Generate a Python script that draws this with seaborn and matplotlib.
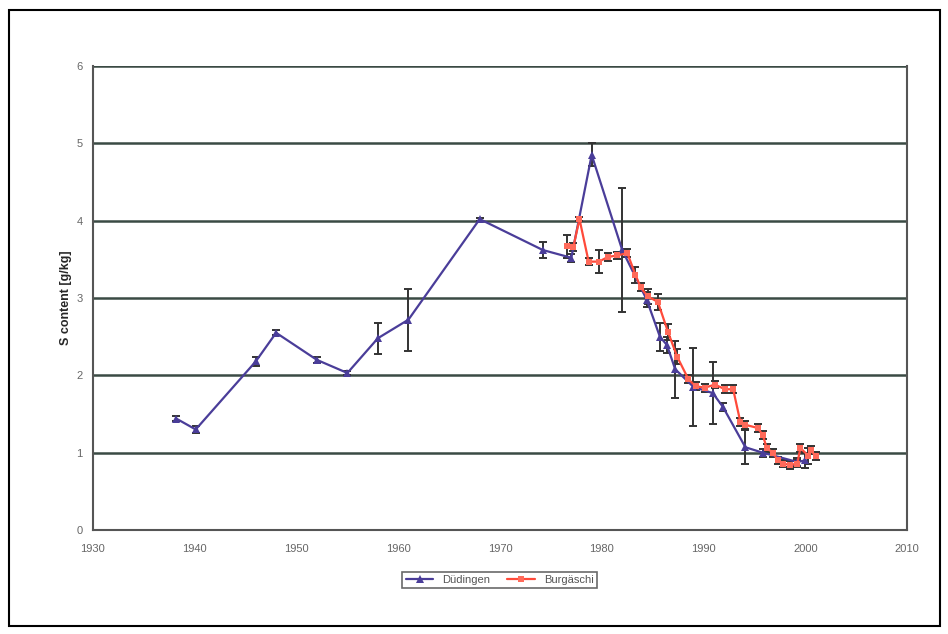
import numpy as np
import pandas as pd
import matplotlib
matplotlib.use('Agg')
import matplotlib.pyplot as plt
import seaborn as sns
from matplotlib.patches import Rectangle

# Düdingen
dud_year = [1938.2, 1940.1, 1946.0, 1948.0, 1952.0, 1955.0, 1958.0, 1961.0, 1968.0,
            1974.2, 1977.0, 1979.0, 1982.0, 1984.4, 1985.7, 1986.4, 1987.2, 1989.0,
            1990.9, 1991.9, 1994.1, 1995.8, 1999.2, 2000.0]
dud_val = [1.44, 1.30, 2.18, 2.55, 2.20, 2.03, 2.48, 2.72, 4.02,
           3.62, 3.52, 4.85, 3.62, 2.98, 2.50, 2.39, 2.08, 1.85,
           1.77, 1.59, 1.07, 1.00, 0.88, 0.90]
dud_err = [0.03, 0.05, 0.06, 0.03, 0.04, 0.02, 0.20, 0.40, 0.02,
           0.10, 0.05, 0.15, 0.80, 0.10, 0.18, 0.10, 0.37, 0.50,
           0.40, 0.05, 0.22, 0.05, 0.05, 0.10]

# Burgäschi
bur_year = [1976.6, 1977.2, 1977.8, 1978.7, 1979.7, 1980.6, 1981.5, 1982.5, 1983.3,
            1983.8, 1984.5, 1985.5, 1986.5, 1987.4, 1988.5, 1989.2, 1990.1, 1991.1,
            1992.1, 1992.9, 1993.6, 1994.1, 1995.3, 1995.8, 1996.2, 1996.8, 1997.3,
            1997.8, 1998.5, 1999.2, 1999.5, 2000.3, 2000.5, 2001.0]
bur_val = [3.67, 3.66, 4.02, 3.47, 3.47, 3.53, 3.55, 3.58, 3.30,
           3.14, 3.02, 2.95, 2.56, 2.24, 1.95, 1.86, 1.84, 1.88,
           1.82, 1.82, 1.40, 1.36, 1.32, 1.23, 1.06, 1.00, 0.90,
           0.86, 0.84, 0.86, 1.06, 0.96, 1.03, 0.96]
bur_err = [0.15, 0.05, 0.03, 0.05, 0.15, 0.05, 0.05, 0.05, 0.10,
           0.05, 0.10, 0.10, 0.10, 0.10, 0.05, 0.05, 0.05, 0.05,
           0.05, 0.05, 0.05, 0.05, 0.05, 0.05, 0.05, 0.05, 0.05,
           0.05, 0.05, 0.05, 0.05, 0.10, 0.05, 0.05]

dud = pd.DataFrame({'Jahr': dud_year, 'S': dud_val})
bur = pd.DataFrame({'Jahr': bur_year, 'S': bur_val})

sns.set_style('white')
plt.rcParams['font.family'] = ['Liberation Sans', 'DejaVu Sans']

fig = plt.figure(figsize=(9.48, 6.34), dpi=100)
ax = fig.add_axes([0.098, 0.164, 0.859, 0.732])

blue = '#4a3d99'
red = '#ff4a3a'

# Fehlerbalken
ax.errorbar(dud_year, dud_val, yerr=dud_err, fmt='none', ecolor='#333333',
            elinewidth=1.4, capsize=3, capthick=1.4, zorder=2)
ax.errorbar(bur_year, bur_val, yerr=bur_err, fmt='none', ecolor='#333333',
            elinewidth=1.4, capsize=3, capthick=1.4, zorder=2)

sns.lineplot(data=dud, x='Jahr', y='S', color=blue, marker='^', markersize=6,
             markeredgewidth=0, linewidth=1.6, label='Düdingen', ax=ax, zorder=3)
sns.lineplot(data=bur, x='Jahr', y='S', color=red, marker='s', markersize=4.5,
             markerfacecolor='#ff6a5a', markeredgewidth=0, linewidth=1.6,
             label='Burgäschi', ax=ax, zorder=4)

ax.set_xlim(1930, 2010)
ax.set_ylim(0, 6)
ax.set_xticks(range(1930, 2011, 10))
ax.set_yticks(range(0, 7))
ax.yaxis.grid(True, color='#3a4a44', linewidth=1.8)
ax.set_axisbelow(True)
for side in ['left', 'bottom', 'right']:
    ax.spines[side].set_color('#555555')
    ax.spines[side].set_linewidth(1.5)
ax.spines['top'].set_visible(False)
ax.tick_params(axis='both', direction='out', length=4, width=1.2, color='#555555',
               labelsize=8, labelcolor='#666666')
ax.tick_params(axis='x', pad=6)
ax.set_xlabel('')
ax.set_ylabel('S content [g/kg]', fontsize=9, fontweight='bold', labelpad=3)

leg = ax.legend(loc='center', bbox_to_anchor=(0.527, 0.085), bbox_transform=fig.transFigure,
                ncol=2, frameon=True, fontsize=8, handlelength=2.5, columnspacing=1.5,
                borderpad=0.3, fancybox=False, edgecolor='#444444')
leg.get_frame().set_linewidth(1.2)
for t in leg.get_texts():
    t.set_color('#555555')

fig.patches.append(Rectangle((0.009, 0.013), 0.983, 0.972, transform=fig.transFigure,
                             fill=False, edgecolor='black', linewidth=1.5))

fig.savefig('out.png', dpi=100)
